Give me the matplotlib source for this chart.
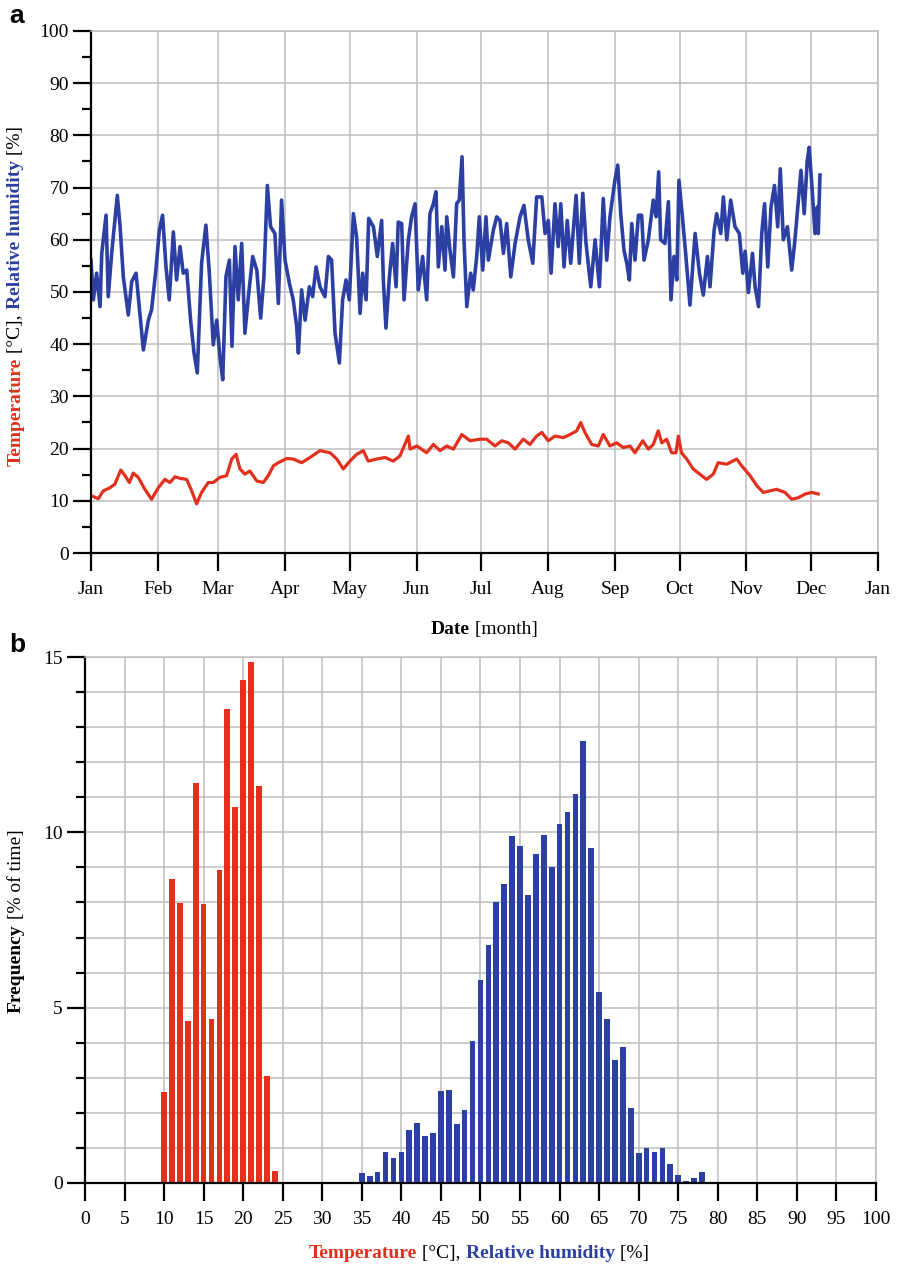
import matplotlib.pyplot as plt
import numpy as np

plt.rcParams['font.family'] = ['Liberation Serif', 'DejaVu Serif']

# ---- data ----
months = ['Jan', 'Feb', 'Mar', 'Apr', 'May', 'Jun', 'Jul', 'Aug', 'Sep', 'Oct', 'Nov', 'Dec', 'Jan']
month_start = [0, 31, 59, 90, 120, 151, 181, 212, 243, 273, 304, 334, 365]

# relative humidity [%] vs day of year
hum_day = [0, 1.1, 2.6, 4.2, 5.0, 7.0, 8.0, 9.6, 12.2, 13.5,
           15.0, 17.3, 18.9, 20.9, 22.4, 24.3, 26.6, 28.1, 30.1, 31.7,
           33.2, 34.8, 36.3, 38.2, 39.7, 41.3, 42.8, 44.4, 46.2, 47.8,
           49.3, 51.3, 53.3, 54.9, 56.7, 58.3, 59.8, 61.1, 62.6, 64.2,
           65.4, 66.8, 68.3, 69.9, 71.4, 73.0, 75.0, 76.9, 78.7, 80.2,
           81.8, 83.3, 85.3, 86.9, 88.4, 90.0, 92.0, 93.8, 95.4, 96.2,
           97.7, 99.3, 101.3, 102.8, 104.4, 106.2, 108.5, 110.1, 111.6, 113.2,
           115.2,
           116.7, 118.3, 119.8, 121.7, 123.2, 124.8, 126.0, 127.6, 128.8,
           131.0, 132.8, 134.8, 135.6, 136.8, 138.4, 139.9, 141.5, 142.5, 144.1, 145.2,
           147.2, 148.7, 150.3, 151.8, 153.8, 155.7, 157.2, 158.8, 160.0, 161.1,
           162.7, 164.2, 165.0, 166.5, 168.1, 169.6, 170.8, 172.1, 173.0, 174.3,
           176.1, 177.3, 178.9, 180.1, 181.7, 183.2, 184.3, 186.6, 188.2, 189.7,
           191.3, 192.8, 194.7, 196.7, 199.0, 200.8, 202.8, 204.9, 206.7, 209.1,
           210.6, 212.1, 213.4, 215.2, 216.7, 217.9, 219.4, 220.9, 222.5, 225.0,
           226.5, 228.1, 229.6, 231.8, 233.8, 235.8,
           237.6, 239.2, 240.7, 243.0, 244.3, 245.7, 247.2, 248.5, 249.7, 250.8,
           252.3, 253.9, 255.4, 256.5, 258.5, 260.8, 262.1, 263.3, 264.2, 266.2,
           267.8, 269.0, 270.4, 271.7, 272.7, 274.3, 275.8, 277.8, 280.2, 282.2,
           284.0, 285.9, 287.1, 289.0, 290.2, 292.1, 293.3, 294.9, 296.7, 298.7,
           300.7, 302.3, 303.4, 304.9, 306.8, 308.0, 309.6, 311.1, 312.4, 313.9,
           315.4, 317.0, 318.5, 319.7, 321.1, 323.0, 325.0, 326.5, 328.1, 329.3,
           330.8, 332.2, 333.1, 334.4, 335.8, 336.9, 337.3, 338.1]
hum_val = [56.1, 48.5, 53.6, 47.2, 57.4, 64.7, 49.1, 57.4, 68.5, 62.5,
           52.9, 45.6, 52.0, 53.6, 47.2, 38.9, 44.6, 46.6, 54.2, 61.8,
           64.7, 54.8, 48.5, 61.5, 52.3, 58.7, 53.6, 54.2, 44.6, 38.3,
           34.5, 55.5, 62.8, 53.6, 39.9, 44.6, 37.6, 33.2, 52.9, 56.1,
           39.6, 58.7, 48.5, 59.3, 42.1, 49.1, 56.8, 54.2, 45.0, 52.9,
           70.4, 62.5, 61.2, 47.8, 67.6, 56.1, 51.7, 48.5, 43.4, 38.3,
           50.4, 44.6, 51.0, 49.1, 54.8, 51.0, 49.1, 56.8, 56.1, 42.1,
           36.4,
           48.5, 52.3, 48.5, 65.0, 60.5, 45.9, 53.6, 48.5, 64.1,
           62.5, 56.8, 63.7, 52.3, 43.1, 52.9, 59.3, 51.0, 63.4, 63.1, 48.5,
           60.0, 64.4, 66.9, 50.4, 56.8, 48.5, 65.0, 66.9, 69.2, 54.8,
           62.5, 54.2, 64.4, 58.0, 52.9, 66.9, 67.6, 75.9, 60.0, 47.2,
           53.6, 50.4, 56.8, 64.4, 54.2, 64.4, 56.1, 61.8, 64.4, 63.7,
           57.4, 63.1, 52.9, 59.3, 64.4, 66.6, 60.0, 55.5, 68.2, 68.2,
           61.2, 63.7, 53.6, 66.9, 58.7, 66.9, 54.8, 63.7, 55.5, 68.5,
           55.5, 68.9, 59.3, 51.0, 60.0, 51.0,
           67.9, 56.1, 64.4, 71.4, 74.3, 65.0, 58.0, 55.5, 52.3, 63.1,
           56.1, 64.7, 64.7, 56.1, 60.0, 67.6, 64.4, 73.0, 60.0, 59.3,
           67.3, 48.5, 56.8, 52.3, 71.4, 64.4, 57.4, 47.5, 61.2, 53.6,
           49.4, 56.8, 51.0, 61.8, 65.0, 61.2, 68.2, 60.0, 67.6, 62.5,
           61.2, 53.6, 57.8, 49.9, 57.4, 51.0, 47.2, 61.2, 66.9, 54.8,
           66.3, 70.4, 62.5, 73.6, 60.0, 62.5, 54.2, 60.0, 67.6, 73.3,
           65.0, 75.2, 77.7, 70.1, 61.2, 66.3, 61.2, 72.4]

# temperature [degC] vs day of year
temp_day = [0, 3.4, 5.7, 8.8, 11.1, 13.8, 15.8, 17.8, 19.6, 21.9,
            25.0, 28.1, 31.2, 34.3, 36.6, 39.0, 41.3, 44.4, 46.7, 49.0,
            51.3, 54.4, 56.7, 59.8, 62.9, 65.3, 67.3, 69.1, 71.4, 73.7,
            76.9, 79.9, 82.2, 84.6, 86.9, 90.8, 93.8, 97.7, 101.6, 106.2,
            110.9, 114.0, 117.0, 120.1, 123.2, 126.3, 128.6, 132.5, 136.4, 140.2,
            143.3, 147.2, 148.0, 151.1, 155.7, 158.8, 161.9, 165.0, 168.1, 172.0,
            175.8,
            180.4, 183.5, 187.4, 190.5, 193.6, 196.7, 200.5, 203.6, 206.7, 209.1,
            212.1, 215.2, 219.1, 222.2, 225.3, 227.1, 229.1, 232.2, 235.3, 237.6,
            240.7, 243.8, 246.9, 250.0, 252.3, 255.9, 258.5, 260.8, 263.1, 264.7,
            267.0, 269.3, 271.3, 272.4, 273.9, 276.3, 279.3, 282.4, 285.5, 288.6,
            290.9, 294.8, 299.5, 301.8, 305.7, 308.8, 311.8, 314.9, 318.0, 321.9,
            325.0, 328.1, 331.2, 334.3, 337.3]
temp_val = [11.0, 10.4, 11.9, 12.5, 13.2, 15.9, 14.8, 13.5, 15.3, 14.5,
            12.2, 10.3, 12.5, 14.1, 13.5, 14.6, 14.3, 14.1, 11.9, 9.4,
            11.6, 13.5, 13.5, 14.5, 14.8, 18.0, 18.9, 16.1, 15.1, 15.7,
            13.8, 13.5, 14.8, 16.7, 17.3, 18.1, 18.0, 17.3, 18.3, 19.6,
            19.2, 18.0, 16.1, 17.6, 18.9, 19.6, 17.6, 18.0, 18.3, 17.6,
            18.6, 22.4, 19.9, 20.5, 19.2, 20.8, 19.6, 20.5, 19.9, 22.7,
            21.5,
            21.8, 21.8, 20.5, 21.5, 21.1, 19.9, 21.8, 20.8, 22.4, 23.1,
            21.5, 22.4, 22.1, 22.7, 23.4, 25.0, 23.1, 20.8, 20.5, 22.7,
            20.5, 21.1, 20.2, 20.5, 19.2, 21.5, 19.9, 20.8, 23.4, 21.1,
            21.8, 19.2, 19.2, 22.4, 19.2, 18.0, 16.1, 15.1, 14.1, 15.1,
            17.3, 17.0, 18.0, 16.7, 14.8, 12.9, 11.6, 11.9, 12.2, 11.6,
            10.3, 10.6, 11.3, 11.6, 11.3]

# histograms, frequency [% of time]
temp_bins = list(range(10, 25))
temp_freq = [2.59, 8.67, 7.99, 4.62, 11.42, 7.96, 4.68, 8.93, 13.52, 10.71,
             14.34, 14.85, 11.33, 3.05, 0.33]
hum_bins = list(range(35, 79))
hum_freq = [0.28, 0.20, 0.32, 0.87, 0.70, 0.87, 1.50, 1.72, 1.33, 1.43,
            2.63, 2.66, 1.67, 2.09, 4.06, 5.80, 6.79, 8.02, 8.52, 9.89,
            9.60, 8.20, 9.38, 9.93, 9.00, 10.24, 10.59, 11.08, 12.60, 9.56,
            5.44, 4.67, 3.50, 3.89, 2.15, 0.85, 1.00, 0.89, 1.00, 0.53,
            0.24, 0.06, 0.13, 0.30]

RED = '#e2301e'
BLUE = '#2c3fa2'
GRID = '#bdbdbd'
FS = 14

fig = plt.figure(figsize=(8.99, 12.64), dpi=100)


def style_axes(a):
    a.set_axisbelow(True)
    for s in ['left', 'bottom']:
        a.spines[s].set_linewidth(1.6)
        a.spines[s].set_color('black')
    for s in ['top', 'right']:
        a.spines[s].set_linewidth(1.1)
        a.spines[s].set_color(GRID)
    a.tick_params(which='major', direction='out', length=13, width=1.6, labelsize=FS)
    a.tick_params(which='minor', direction='out', length=6.5, width=1.6)
    a.tick_params(axis='x', pad=7)
    a.tick_params(axis='y', pad=3)


def colour_text(anchor_ax, x, y, pieces, vertical=False, size=FS):
    rot = 90 if vertical else 0
    s, c, w = pieces[0]
    t = fig.text(x, y, s, color=c, fontweight=w, rotation=rot, fontsize=size,
                 ha='left', va='bottom')
    for s, c, w in pieces[1:]:
        xy = (0, 1) if vertical else (1, 0)
        t = anchor_ax.annotate(s, xy=xy, xycoords=t, color=c, fontweight=w,
                               rotation=rot, fontsize=size, ha='left', va='bottom',
                               annotation_clip=False)


# ---- panel a: time series ----
ax = fig.add_axes([0.1012, 0.5625, 0.8754, 0.413])
ax.plot(hum_day, hum_val, color=BLUE, lw=2.6, solid_joinstyle='round')
ax.plot(temp_day, temp_val, color=RED, lw=2.3, solid_joinstyle='round')
ax.set_xlim(0, 365)
ax.set_ylim(0, 100)
ax.set_xticks(month_start)
ax.set_xticklabels(months)
ax.set_yticks(np.arange(0, 101, 10))
ax.set_yticks(np.arange(5, 100, 10), minor=True)
ax.grid(True, which='major', color=GRID, lw=1.1)
style_axes(ax)

colour_text(ax, 0.008, 1 - 466 / 1264,
            [('Temperature', RED, 'bold'), (' [°C], ', 'black', 'normal'),
             ('Relative humidity', BLUE, 'bold'), (' [%]', 'black', 'normal')],
            vertical=True)
colour_text(ax, 431 / 899, 1 - 638 / 1264,
            [('Date', 'black', 'bold'), (' [month]', 'black', 'normal')])

# ---- panel b: histograms ----
ax2 = fig.add_axes([0.0945, 0.0641, 0.8799, 0.4161])
ax2.bar(temp_bins, temp_freq, width=0.72, color=RED)
ax2.bar(hum_bins, hum_freq, width=0.72, color=BLUE)
ax2.set_xlim(0, 100)
ax2.set_ylim(0, 15)
ax2.set_xticks(np.arange(0, 101, 5))
ax2.set_yticks([0, 5, 10, 15])
ax2.set_yticks(np.arange(1, 15), minor=True)
ax2.grid(True, axis='x', which='major', color=GRID, lw=1.1)
ax2.grid(True, axis='y', which='both', color=GRID, lw=1.1)
style_axes(ax2)

colour_text(ax2, 0.009, 1 - 1013 / 1264,
            [('Frequency', 'black', 'bold'), (' [% of time]', 'black', 'normal')],
            vertical=True)
colour_text(ax2, 309 / 899, 1 - 1262 / 1264,
            [('Temperature', RED, 'bold'), (' [°C], ', 'black', 'normal'),
             ('Relative humidity', BLUE, 'bold'), (' [%]', 'black', 'normal')])

fig.text(0.010, 1 - 23 / 1264, 'a', fontsize=19, fontweight='bold',
         family=['Liberation Sans', 'DejaVu Sans'], va='baseline')
fig.text(0.010, 1 - 652 / 1264, 'b', fontsize=19, fontweight='bold',
         family=['Liberation Sans', 'DejaVu Sans'], va='baseline')

fig.savefig('out.png', dpi=100)
